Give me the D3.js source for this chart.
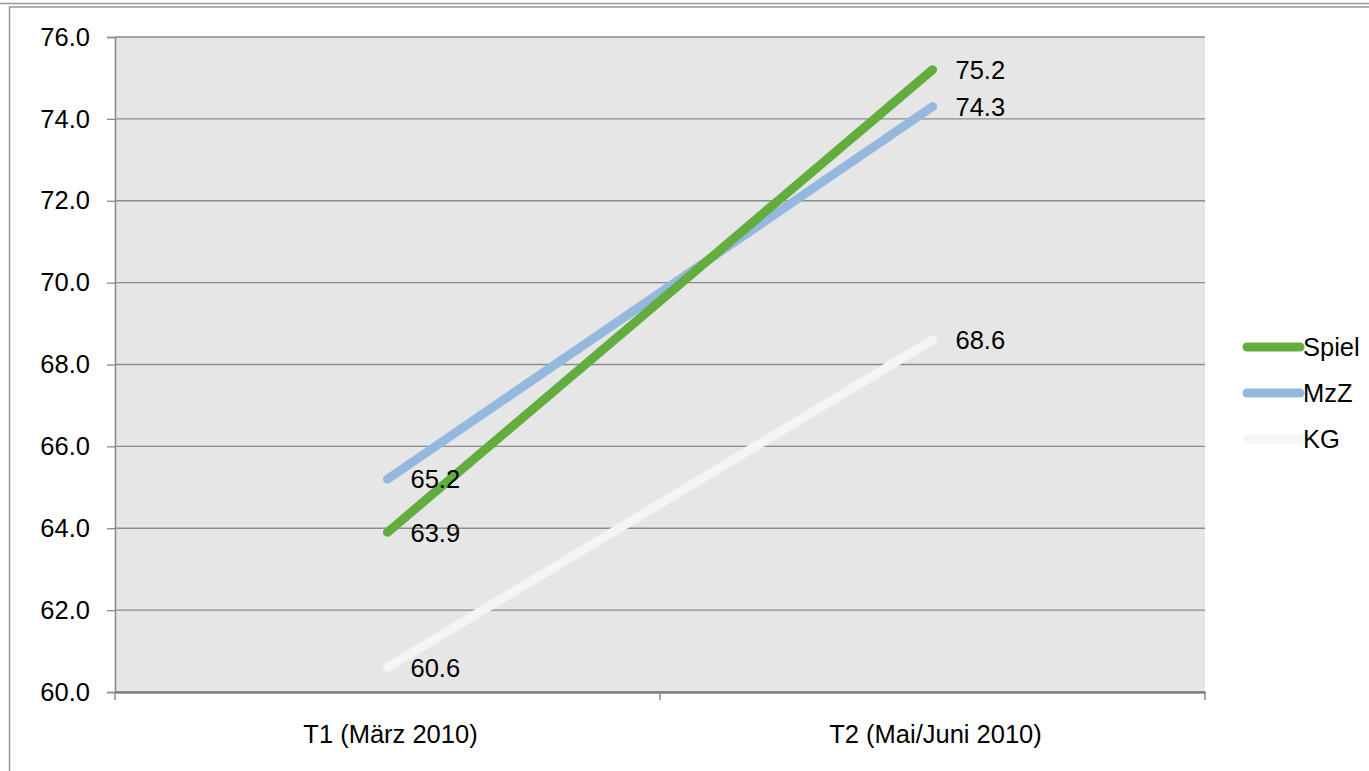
<!DOCTYPE html>
<html>
<head>
<meta charset="utf-8">
<script src="https://cdn.jsdelivr.net/npm/d3@7"></script>
<style>
  body { margin: 0; background: #fff; }
  text { font-family: "Liberation Sans", Arial, sans-serif; fill: #000; }
</style>
</head>
<body>
<div id="chart"></div>
<script>
// Data
var categories = ["T1 (März 2010)", "T2 (Mai/Juni 2010)"];
var seriesNames = ["Spiel", "MzZ", "KG"];
var spielValues = [63.9, 75.2];
var mzzValues = [65.2, 74.3];
var kgValues = [60.6, 68.6];
var yTicks = [60, 62, 64, 66, 68, 70, 72, 74, 76];

var colors = { "Spiel": "#62ad3e", "MzZ": "#95b8df", "KG": "#f5f5f5" };
var fontSize = "25.5px";

var series = [
  { name: "Spiel", values: spielValues },
  { name: "MzZ", values: mzzValues },
  { name: "KG", values: kgValues }
];

var svgWidth = 1369;
var svgHeight = 771;
var margin = { top: 37, right: 164, bottom: 79, left: 115 };
var chartWidth = svgWidth - margin.left - margin.right;
var chartHeight = svgHeight - margin.top - margin.bottom;

var svg = d3.select("#chart")
  .append("svg")
  .attr("width", svgWidth)
  .attr("height", svgHeight);

// outer frame lines
svg.append("line").attr("x1", 0).attr("x2", svgWidth).attr("y1", 3.5).attr("y2", 3.5)
  .attr("stroke", "#999").attr("stroke-width", 1.5);
svg.append("line").attr("x1", 9).attr("x2", svgWidth).attr("y1", 7).attr("y2", 7)
  .attr("stroke", "#999").attr("stroke-width", 1.5);
svg.append("line").attr("x1", 9.5).attr("x2", 9.5).attr("y1", 7).attr("y2", svgHeight)
  .attr("stroke", "#999").attr("stroke-width", 1.5);

var chartGroup = svg.append("g")
  .attr("transform", `translate(${margin.left}, ${margin.top})`);

var xScale = d3.scaleBand()
  .domain(categories)
  .range([0, chartWidth]);

var yScale = d3.scaleLinear()
  .domain([60, 76])
  .range([chartHeight, 0]);

// plot background
chartGroup.append("rect")
  .attr("width", chartWidth)
  .attr("height", chartHeight)
  .attr("fill", "#e6e6e6");

// gridlines
chartGroup.selectAll(".grid")
  .data(yTicks)
  .enter()
  .append("line")
  .attr("x1", 0)
  .attr("x2", chartWidth)
  .attr("y1", d => yScale(d))
  .attr("y2", d => yScale(d))
  .attr("stroke", "#8c8c8c")
  .attr("stroke-width", 1.3);

// y axis
var leftAxis = d3.axisLeft(yScale)
  .tickValues(yTicks)
  .tickSize(8)
  .tickPadding(17)
  .tickFormat(d3.format(".1f"));

var yAxis = chartGroup.append("g").call(leftAxis);
yAxis.select(".domain").attr("stroke", "#888").attr("stroke-width", 1.5);
yAxis.selectAll(".tick line").attr("stroke", "#888").attr("stroke-width", 1.3);
yAxis.selectAll("text")
  .attr("font-size", fontSize)
  .attr("font-family", "Liberation Sans, Arial, sans-serif")
  .attr("fill", "#000");

// x axis
var bottomAxis = d3.axisBottom(xScale)
  .tickSize(0)
  .tickPadding(33);

var xAxis = chartGroup.append("g")
  .attr("transform", `translate(0, ${chartHeight})`)
  .call(bottomAxis);
xAxis.select(".domain").attr("stroke", "#808080").attr("stroke-width", 2.5);
xAxis.selectAll("text")
  .attr("font-size", fontSize)
  .attr("font-family", "Liberation Sans, Arial, sans-serif")
  .attr("fill", "#000")
  .attr("dx", 3);

// category boundary ticks
var boundaries = [0].concat(categories.map(c => xScale(c) + xScale.bandwidth()));
chartGroup.selectAll(".xtick")
  .data(boundaries)
  .enter()
  .append("line")
  .attr("x1", d => d)
  .attr("x2", d => d)
  .attr("y1", chartHeight)
  .attr("y2", chartHeight + 8)
  .attr("stroke", "#888")
  .attr("stroke-width", 1.5);

// lines (draw KG first so green/blue sit above)
var line = d3.line()
  .x((d, i) => xScale(categories[i]) + xScale.bandwidth() / 2)
  .y(d => yScale(d));

var drawOrder = [series[2], series[1], series[0]];
chartGroup.selectAll(".series")
  .data(drawOrder)
  .enter()
  .append("path")
  .attr("d", d => line(d.values))
  .attr("fill", "none")
  .attr("stroke", d => colors[d.name])
  .attr("stroke-width", 9)
  .attr("stroke-linecap", "round");

// data labels
series.forEach(function(s) {
  chartGroup.selectAll(null)
    .data(s.values)
    .enter()
    .append("text")
    .attr("x", (d, i) => xScale(categories[i]) + xScale.bandwidth() / 2 + 23)
    .attr("y", d => yScale(d))
    .attr("dy", "0.36em")
    .attr("font-size", fontSize)
    .text(d => d.toFixed(1));
});

// legend
var legend = svg.append("g")
  .attr("transform", "translate(1247, 347)");

var legendItems = legend.selectAll(".legend")
  .data(seriesNames)
  .enter()
  .append("g")
  .attr("transform", (d, i) => `translate(0, ${i * 46})`);

legendItems.append("line")
  .attr("x1", 0)
  .attr("x2", 53)
  .attr("stroke", d => colors[d])
  .attr("stroke-width", 9)
  .attr("stroke-linecap", "round");

legendItems.append("text")
  .attr("x", 56)
  .attr("dy", "0.36em")
  .attr("font-size", fontSize)
  .text(d => d);
</script>
</body>
</html>
